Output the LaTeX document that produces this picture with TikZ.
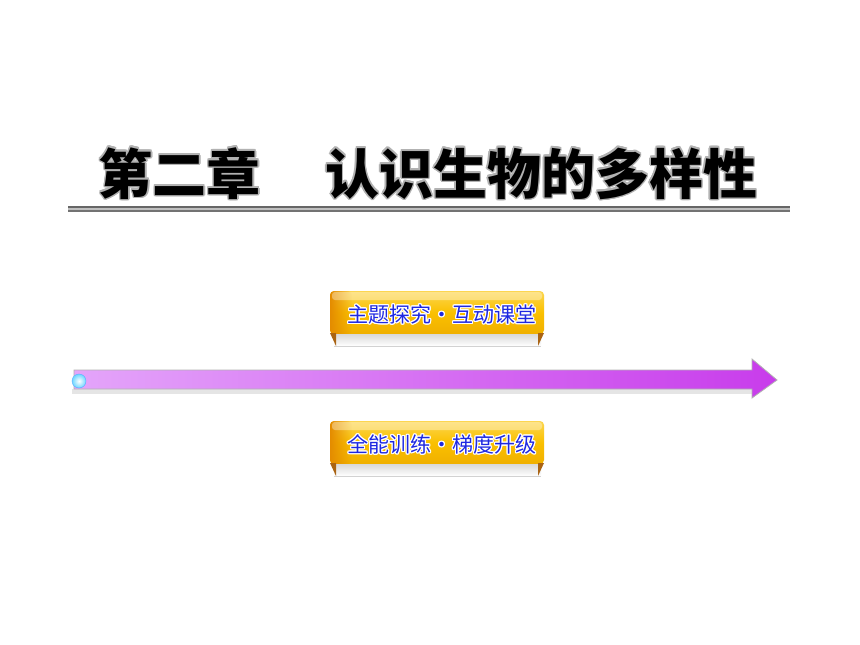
\documentclass[tikz,border=0pt]{standalone}
\usepackage{fontspec}
\usepackage{contour}
\usetikzlibrary{fadings}
\newfontfamily\cjk{Noto Sans CJK SC}
\definecolor{txtblue}{RGB}{30,40,225}
\definecolor{goldTop}{RGB}{252,214,80}
\definecolor{goldMid}{RGB}{250,192,0}
\definecolor{goldBot}{RGB}{240,176,0}
\definecolor{goldEdge}{RGB}{228,140,0}
\definecolor{foldcol}{RGB}{170,100,20}
\definecolor{barL}{RGB}{228,165,250}
\definecolor{barR}{RGB}{200,60,235}
\definecolor{sphere}{RGB}{110,215,255}
\tikzset{
  btntext/.style={font=\cjk\fontsize{21}{21}\selectfont, text=txtblue, inner sep=0pt},
  titletext/.style={font=\cjk\bfseries\fontsize{54}{54}\selectfont, inner sep=0pt},
}
\newcommand{\mybutton}[4]{%
  % #1 name, #2 top y, #3 text, #4 text y
  \shade[top color=goldTop, bottom color=goldBot, middle color=goldMid, rounded corners=4pt]
     (330,#2) rectangle (544,#2+43);
  \fill[goldEdge, path fading=east, rounded corners=4pt] (330,#2) rectangle (352,#2+43);
  \fill[white, opacity=0.35, rounded corners=3pt] (332,#2+1) rectangle (542,#2+9);
  \shade[top color=gray!30, bottom color=white] (334,#2+43) rectangle (541,#2+55);
  \draw[gray!35, line width=0.6pt] (334,#2+55) -- (541,#2+55);
  \fill[foldcol] (330,#2+42) -- (336,#2+42) -- (336,#2+55) -- cycle;
  \fill[foldcol] (544,#2+42) -- (538,#2+42) -- (538,#2+55) -- cycle;
  \node[btntext] (#1) at (442,#4) {\contourlength{1.2pt}\contour{white}{#3}};
}
\begin{document}
\begin{tikzpicture}[x=1pt,y=-1pt]
\useasboundingbox (0,0) rectangle (860,645);
\fill[white] (0,0) rectangle (860,645);
% title
\node[titletext] (title) at (428,174) {\contourlength{1.5pt}\contour{black!30}{第二章\hspace{1.2em}认识生物的多样性}};
\draw[black!60, line width=1.6pt] (68,207) -- (790,207);
\draw[black!25, line width=1.2pt] (68,209) -- (790,209);
\draw[black!55, line width=1.4pt] (68,211) -- (790,211);
% buttons
\mybutton{b1}{291}{主题探究・互动课堂}{315}
\mybutton{b2}{421}{全能训练・梯度升级}{445}
% arrow
\fill[black!10] (72,389) rectangle (752,394);
\shade[left color=barL, right color=barR, draw=black!30, line width=0.8pt]
  (74,370) -- (752,370) -- (752,359) -- (777,380) -- (752,398) -- (752,389) -- (74,389) -- cycle;
\shade[inner color=white, outer color=sphere] (79,381) circle (7);
\draw[sphere!80!blue, line width=0.4pt] (79,381) circle (7);
\end{tikzpicture}
\end{document}
